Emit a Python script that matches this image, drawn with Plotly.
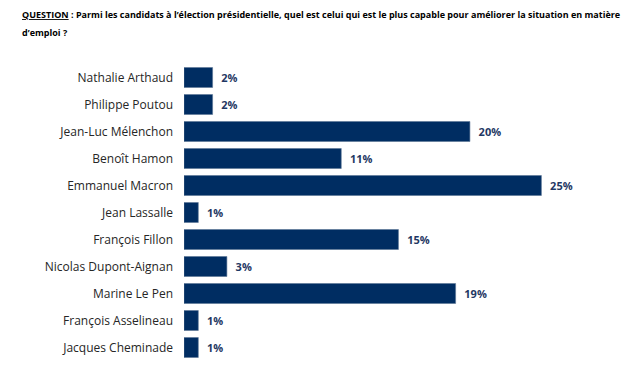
import plotly.graph_objects as go

candidates = ["Nathalie Arthaud", "Philippe Poutou", "Jean-Luc Mélenchon", "Benoît Hamon",
              "Emmanuel Macron", "Jean Lassalle", "François Fillon", "Nicolas Dupont-Aignan",
              "Marine Le Pen", "François Asselineau", "Jacques Cheminade"]
values = [2, 2, 20, 11, 25, 1, 15, 3, 19, 1, 1]
labels = [f"  {v}%" for v in values]

bar_color = "#002D62"

L, R, T, B = 184, 30, 63.5, 6.5
PW, PH = 630 - L - R, 368 - T - B

fig = go.Figure(go.Bar(
    x=values, y=candidates, orientation="h",
    marker=dict(color=bar_color, line=dict(color="#5a7596", width=0.6)),
    text=labels, textposition="outside", cliponaxis=False,
    textfont=dict(family="Open Sans", size=11, color="#1F3864", weight="bold"),
    width=0.74,
))

title_lines = [
    "<u>QUESTION</u> : Parmi les candidats à l’élection présidentielle, quel est celui qui est le plus capable pour améliorer la situation en matière",
    "d’emploi ?",
]

annots = []
for i, line in enumerate(title_lines):
    annots.append(dict(
        xref="paper", yref="paper",
        x=(20 - L) / PW, y=1 + (T - 5 - i * 18) / PH,
        xanchor="left", yanchor="top",
        text=line, showarrow=False, align="left",
        font=dict(family="Open Sans", size=9, color="black", weight="bold"),
    ))

fig.update_layout(
    width=630, height=368,
    margin=dict(l=L, r=R, t=T, b=B, autoexpand=False),
    plot_bgcolor="white", paper_bgcolor="white",
    showlegend=False,
    xaxis=dict(range=[0, 29.1], visible=False, automargin=False),
    yaxis=dict(autorange="reversed", showline=False, showgrid=False, ticks="",
               automargin=False, ticklabelstandoff=10,
               tickfont=dict(family="Open Sans", size=12, color="#262626")),
    annotations=annots,
)

fig.write_html("out.html", config={"displayModeBar": False},
               post_script="document.body.style.margin='0';document.body.style.overflow='hidden';")
